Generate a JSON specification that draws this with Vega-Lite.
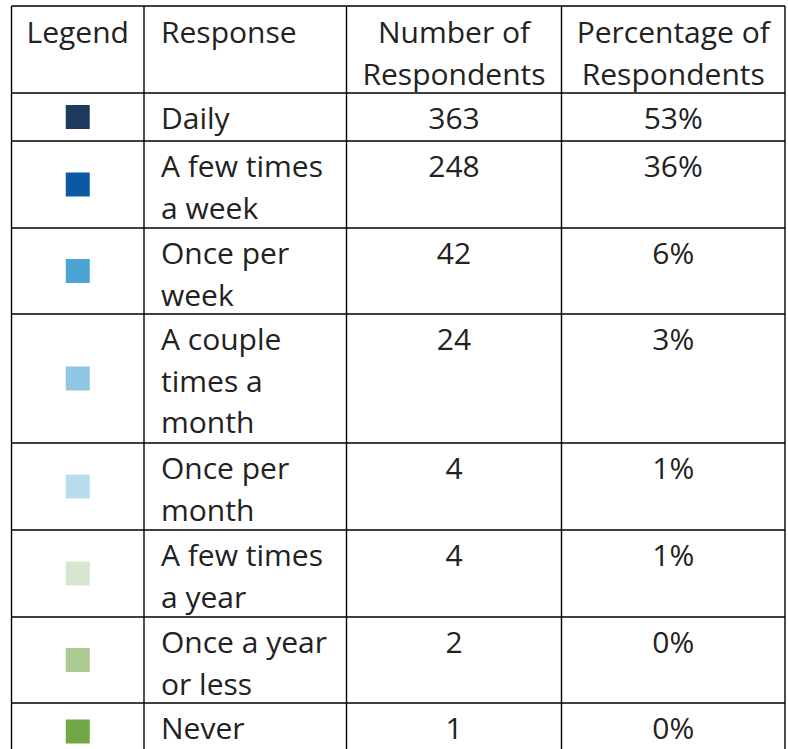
{
  "$schema": "https://vega.github.io/schema/vega-lite/v6.json",
  "width": 788,
  "height": 749,
  "autosize": {"type": "none"},
  "padding": 0,
  "background": "white",
  "config": {"view": {"stroke": null}},
  "datasets": {
    "columns": [
      {"col": 0, "title": "Legend"},
      {"col": 1, "title": "Response"},
      {"col": 2, "title": "Number of\nRespondents"},
      {"col": 3, "title": "Percentage of\nRespondents"}
    ],
    "responses": [
      {"order": 1, "response": "Daily", "count": 363, "share": 0.53, "color": "#1f3a5f"},
      {"order": 2, "response": "A few times\na week", "count": 248, "share": 0.36, "color": "#0b58a4"},
      {"order": 3, "response": "Once per\nweek", "count": 42, "share": 0.06, "color": "#4aa5d4"},
      {"order": 4, "response": "A couple\ntimes a\nmonth", "count": 24, "share": 0.03, "color": "#8ec6e3"},
      {"order": 5, "response": "Once per\nmonth", "count": 4, "share": 0.01, "color": "#b8dcee"},
      {"order": 6, "response": "A few times\na year", "count": 4, "share": 0.01, "color": "#d7e6cd"},
      {"order": 7, "response": "Once a year\nor less", "count": 2, "share": 0.0, "color": "#adca93"},
      {"order": 8, "response": "Never", "count": 1, "share": 0.0, "color": "#71a744"}
    ]
  },
  "layer": [
    {
      "data": {"values": [{}]},
      "mark": {"type": "rule", "color": "#000000", "strokeWidth": 1.4},
      "encoding": {
        "y": {"datum": 0, "type": "quantitative", "axis": null, "scale": {"type": "linear", "domain": [0,1,2,3,4,5,6,7,8,9], "range": [6,93,141,228,314,443,530,617,703,760], "zero": false, "nice": false}},
        "x": {"datum": 0, "type": "quantitative", "axis": null, "scale": {"type": "linear", "domain": [0,1,2,3,4], "range": [11.5,144,346.5,561.5,785], "zero": false, "nice": false}},
        "x2": {"datum": 4}
      }
    },
    {
      "data": {"name": "responses"},
      "mark": {"type": "rule", "color": "#000000", "strokeWidth": 1.4},
      "encoding": {
        "y": {"field": "order", "type": "quantitative", "axis": null, "scale": {"type": "linear", "domain": [0,1,2,3,4,5,6,7,8,9], "range": [6,93,141,228,314,443,530,617,703,760], "zero": false, "nice": false}},
        "x": {"datum": 0, "type": "quantitative", "axis": null, "scale": {"type": "linear", "domain": [0,1,2,3,4], "range": [11.5,144,346.5,561.5,785], "zero": false, "nice": false}},
        "x2": {"datum": 4}
      }
    },
    {
      "data": {"name": "columns"},
      "mark": {"type": "rule", "color": "#000000", "strokeWidth": 1.4},
      "encoding": {
        "x": {"field": "col", "type": "quantitative", "axis": null, "scale": {"type": "linear", "domain": [0,1,2,3,4], "range": [11.5,144,346.5,561.5,785], "zero": false, "nice": false}},
        "y": {"datum": 0, "type": "quantitative", "axis": null, "scale": {"type": "linear", "domain": [0,1,2,3,4,5,6,7,8,9], "range": [6,93,141,228,314,443,530,617,703,760], "zero": false, "nice": false}},
        "y2": {"datum": 9}
      }
    },
    {
      "data": {"values": [{}]},
      "mark": {"type": "rule", "color": "#000000", "strokeWidth": 1.4},
      "encoding": {
        "x": {"datum": 4, "type": "quantitative", "axis": null, "scale": {"type": "linear", "domain": [0,1,2,3,4], "range": [11.5,144,346.5,561.5,785], "zero": false, "nice": false}},
        "y": {"datum": 0, "type": "quantitative", "axis": null, "scale": {"type": "linear", "domain": [0,1,2,3,4,5,6,7,8,9], "range": [6,93,141,228,314,443,530,617,703,760], "zero": false, "nice": false}},
        "y2": {"datum": 9}
      }
    },
    {
      "data": {"name": "columns"},
      "transform": [{"filter": "datum.col != 1"}, {"calculate": "datum.col + 0.5", "as": "mid"}],
      "mark": {"type": "text", "font": "Open Sans", "fontSize": 30, "color": "#222222", "align": "center", "baseline": "alphabetic", "lineBreak": "\n", "lineHeight": 41.5, "dy": 37},
      "encoding": {
        "x": {"field": "mid", "type": "quantitative", "axis": null, "scale": {"type": "linear", "domain": [0,1,2,3,4], "range": [11.5,144,346.5,561.5,785], "zero": false, "nice": false}},
        "y": {"datum": 0, "type": "quantitative", "axis": null, "scale": {"type": "linear", "domain": [0,1,2,3,4,5,6,7,8,9], "range": [6,93,141,228,314,443,530,617,703,760], "zero": false, "nice": false}},
        "text": {"field": "title"}
      }
    },
    {
      "data": {"name": "columns"},
      "transform": [{"filter": "datum.col == 1"}],
      "mark": {"type": "text", "font": "Open Sans", "fontSize": 30, "color": "#222222", "align": "left", "baseline": "alphabetic", "lineBreak": "\n", "lineHeight": 41.5, "dy": 37, "dx": 17},
      "encoding": {
        "x": {"field": "col", "type": "quantitative", "axis": null, "scale": {"type": "linear", "domain": [0,1,2,3,4], "range": [11.5,144,346.5,561.5,785], "zero": false, "nice": false}},
        "y": {"datum": 0, "type": "quantitative", "axis": null, "scale": {"type": "linear", "domain": [0,1,2,3,4,5,6,7,8,9], "range": [6,93,141,228,314,443,530,617,703,760], "zero": false, "nice": false}},
        "text": {"field": "title"}
      }
    },
    {
      "data": {"name": "responses"},
      "transform": [{"calculate": "datum.order + 0.5", "as": "mid"}],
      "mark": {"type": "point", "shape": "square", "size": 576, "filled": true, "opacity": 1, "strokeWidth": 0},
      "encoding": {
        "x": {"datum": 0.5, "type": "quantitative", "axis": null, "scale": {"type": "linear", "domain": [0,1,2,3,4], "range": [11.5,144,346.5,561.5,785], "zero": false, "nice": false}},
        "y": {"field": "mid", "type": "quantitative", "axis": null, "scale": {"type": "linear", "domain": [0,1,2,3,4,5,6,7,8,9], "range": [6,93,141,228,314,443,530,617,703,760], "zero": false, "nice": false}},
        "color": {"field": "color", "type": "nominal", "scale": null, "legend": null}
      }
    },
    {
      "data": {"name": "responses"},
      "mark": {"type": "text", "font": "Open Sans", "fontSize": 30, "color": "#222222", "align": "left", "baseline": "alphabetic", "lineBreak": "\n", "lineHeight": 41.5, "dy": 36, "dx": 17},
      "encoding": {
        "x": {"datum": 1, "type": "quantitative", "axis": null, "scale": {"type": "linear", "domain": [0,1,2,3,4], "range": [11.5,144,346.5,561.5,785], "zero": false, "nice": false}},
        "y": {"field": "order", "type": "quantitative", "axis": null, "scale": {"type": "linear", "domain": [0,1,2,3,4,5,6,7,8,9], "range": [6,93,141,228,314,443,530,617,703,760], "zero": false, "nice": false}},
        "text": {"field": "response"}
      }
    },
    {
      "data": {"name": "responses"},
      "mark": {"type": "text", "font": "Open Sans", "fontSize": 30, "color": "#222222", "align": "center", "baseline": "alphabetic", "dy": 36},
      "encoding": {
        "x": {"datum": 2.5, "type": "quantitative", "axis": null, "scale": {"type": "linear", "domain": [0,1,2,3,4], "range": [11.5,144,346.5,561.5,785], "zero": false, "nice": false}},
        "y": {"field": "order", "type": "quantitative", "axis": null, "scale": {"type": "linear", "domain": [0,1,2,3,4,5,6,7,8,9], "range": [6,93,141,228,314,443,530,617,703,760], "zero": false, "nice": false}},
        "text": {"field": "count", "type": "quantitative"}
      }
    },
    {
      "data": {"name": "responses"},
      "mark": {"type": "text", "font": "Open Sans", "fontSize": 30, "color": "#222222", "align": "center", "baseline": "alphabetic", "dy": 36},
      "encoding": {
        "x": {"datum": 3.5, "type": "quantitative", "axis": null, "scale": {"type": "linear", "domain": [0,1,2,3,4], "range": [11.5,144,346.5,561.5,785], "zero": false, "nice": false}},
        "y": {"field": "order", "type": "quantitative", "axis": null, "scale": {"type": "linear", "domain": [0,1,2,3,4,5,6,7,8,9], "range": [6,93,141,228,314,443,530,617,703,760], "zero": false, "nice": false}},
        "text": {"field": "share", "type": "quantitative", "format": ".0%"}
      }
    }
  ]
}
